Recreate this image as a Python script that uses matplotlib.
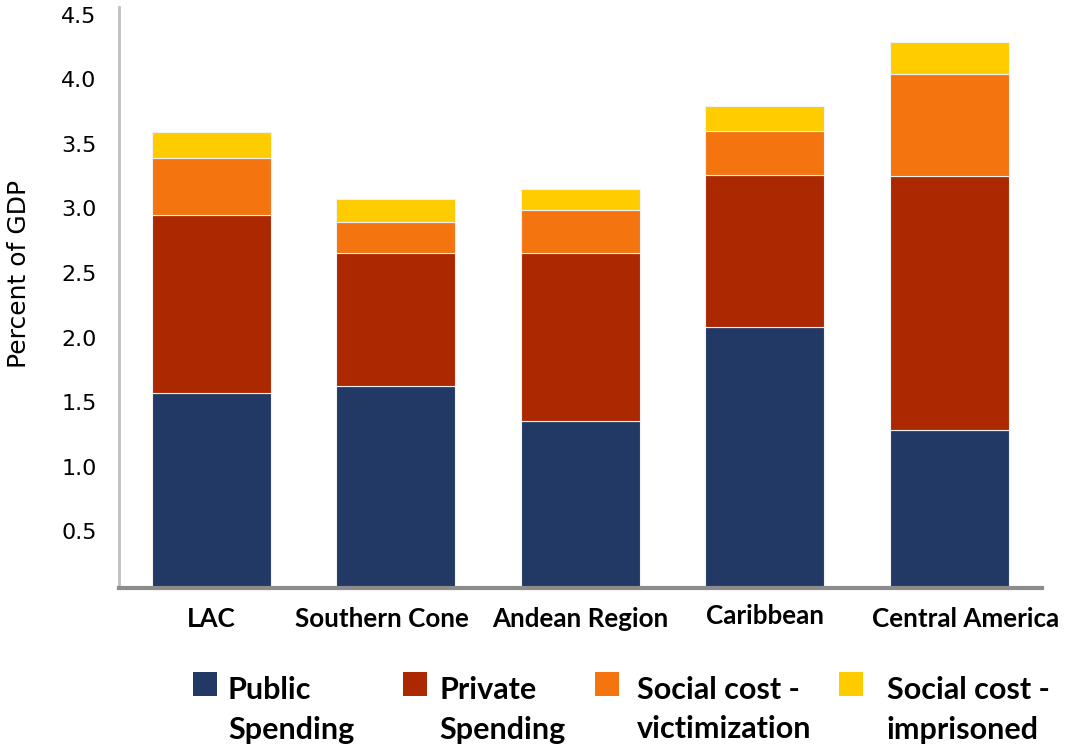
import matplotlib
matplotlib.use("Agg")
import matplotlib.pyplot as plt
import matplotlib.transforms as mtransforms
from matplotlib.patches import Rectangle
import numpy as np

regions = ["LAC", "Southern Cone", "Andean Region", "Caribbean", "Central America"]
public = [1.51, 1.56, 1.29, 2.02, 1.22]
private = [1.38, 1.03, 1.30, 1.18, 1.97]
victimization = [0.44, 0.24, 0.34, 0.34, 0.79]
imprisoned = [0.20, 0.18, 0.16, 0.19, 0.25]

series = [
    ("Public\nSpending", public, "#213964"),
    ("Private\nSpending", private, "#AB2800"),
    ("Social cost -\nvictimization", victimization, "#F47410"),
    ("Social cost -\nimprisoned", imprisoned, "#FFCC00"),
]

W, H = 1065, 749
fig = plt.figure(figsize=(W / 100, H / 100), dpi=100)
ax = fig.add_axes([0.1117, 0.215, 0.8663, 0.776])

x = np.arange(len(regions))
bottom = np.zeros(len(regions))
for label, vals, color in series:
    ax.bar(x, vals, width=0.645, bottom=bottom, color=color,
           edgecolor="#f2f2f2", linewidth=0.8, label=label)
    bottom += np.array(vals)

yticks = [0.5, 1.0, 1.5, 2.0, 2.5, 3.0, 3.5, 4.0, 4.5]
ax.set_xlim(-0.5, len(regions) - 0.5)
ax.set_ylim(0, 4.5)
ax.set_yticks(yticks)
ax.set_yticklabels([f"{v:.1f}" for v in yticks], fontsize=16, family="DejaVu Sans")
ax.tick_params(axis="y", length=0, pad=16)
for t in ax.get_yticklabels():
    t.set_va("top")
ax.set_xticks(x)
ax.set_xticklabels(regions, fontsize=18.7, fontweight="bold", family="Lato")
ax.tick_params(axis="x", length=0, pad=14)
# Excel nudges the crowded labels apart a little
label_shift = [(0, 0), (-14, 0), (0, 0), (0, 3), (16, 0)]
for t, (dx, dy) in zip(ax.get_xticklabels(), label_shift):
    t.set_transform(t.get_transform() + mtransforms.ScaledTranslation(
        dx / 100, dy / 100, fig.dpi_scale_trans))

ax.set_ylabel("Percent of GDP", fontsize=18, family="DejaVu Sans")
ax.yaxis.set_label_coords(-0.095, 0.54)

for s in ("top", "right"):
    ax.spines[s].set_visible(False)
ax.spines["left"].set_color("#BFBFBF")
ax.spines["left"].set_linewidth(2)
ax.spines["bottom"].set_color("#8C8C8C")
ax.spines["bottom"].set_linewidth(3)

# legend: square on the first line, two-line bold labels
patch_x = [193, 403, 595, 839]
text_x = [228, 439, 637, 887]
for (label, _, color), px, tx in zip(series, patch_x, text_x):
    fig.patches.append(Rectangle((px / W, 1 - 696 / H), 24 / W, 24 / H,
                                 transform=fig.transFigure, facecolor=color,
                                 edgecolor="none"))
    fig.text(tx / W, 1 - 676 / H, label, ha="left", va="top", fontsize=22,
             fontweight="bold", family="Lato", linespacing=1.5)

fig.savefig("out.png", dpi=100)
